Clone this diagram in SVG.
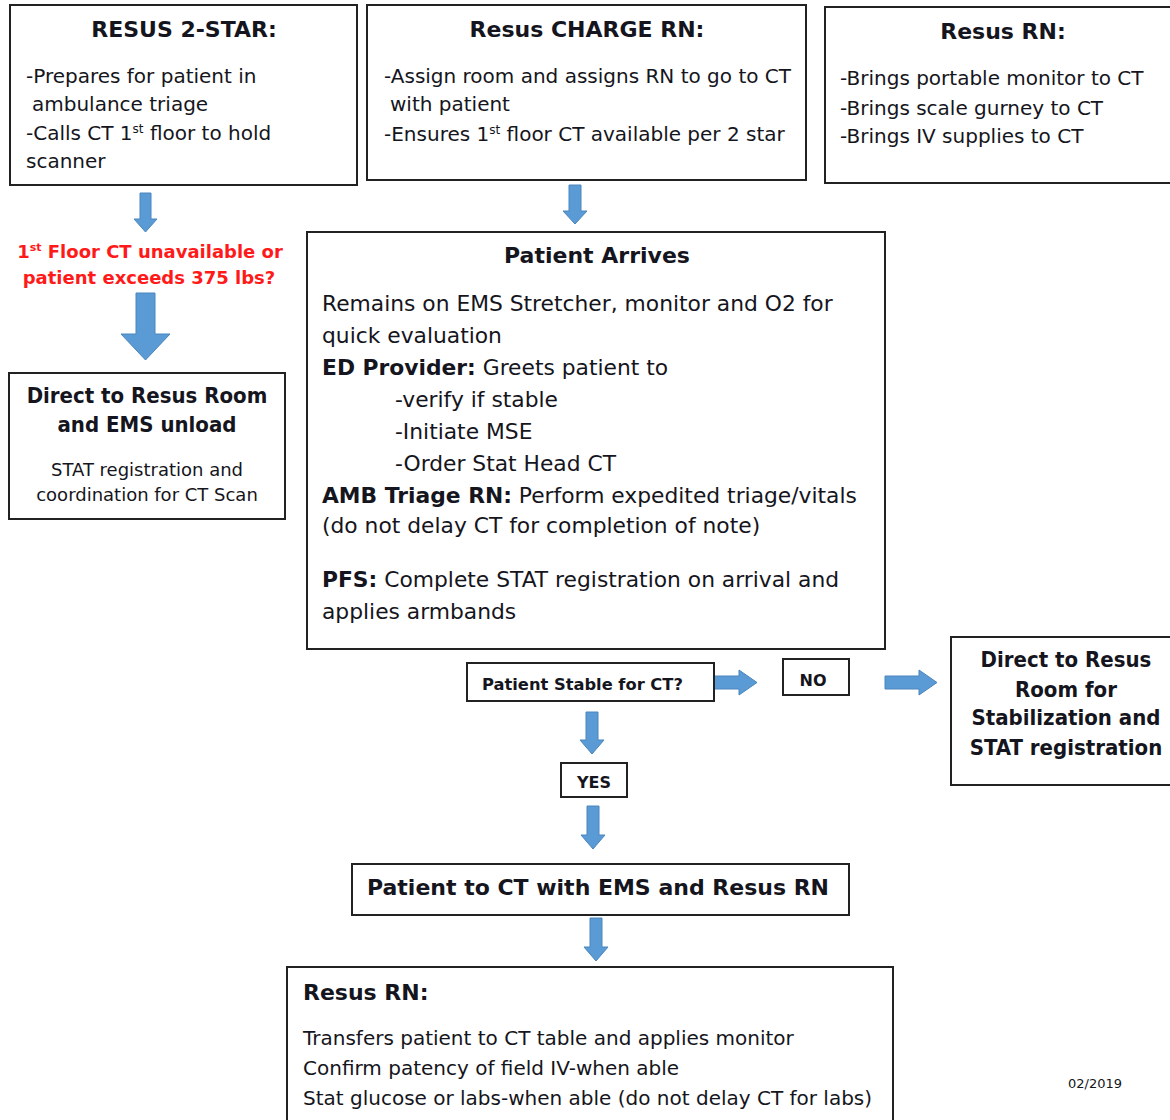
<svg xmlns="http://www.w3.org/2000/svg" width="1170" height="1120" viewBox="0 0 1170 1120">
<defs>
<style>
.box{fill:#fff;stroke:#222;stroke-width:2}
.arr{fill:#5b9bd5;stroke:#4a85bd;stroke-width:1}
text{font-family:"DejaVu Sans",Verdana,sans-serif;fill:#151520}
.t{font-weight:bold;font-size:22px;text-anchor:middle}
.cd{font-family:"DejaVu Sans Condensed","DejaVu Sans",sans-serif}
.b{font-size:20px}
.m{font-size:21.8px}
.bb{font-weight:bold}
.red{fill:#ff1a1a;font-weight:bold;font-size:18px;text-anchor:middle}
.c{text-anchor:middle}
</style>
</defs>
<rect width="1170" height="1120" fill="#fff"/>
<g id="connectors">
<polygon class="arr" points="140,193 151,193 151,219 157,219 145.5,232 134,219 140,219"/>
<polygon class="arr" points="136,293 155,293 155,334 170,334 145.5,360 121,334 136,334"/>
<polygon class="arr" points="569,185 581,185 581,211 587,211 575,224 563,211 569,211"/>
<polygon class="arr" points="703,676 739,676 739,670 757,682.5 739,695 739,689 703,689"/>
<polygon class="arr" points="885,676 919,676 919,670 937,682.5 919,695 919,689 885,689"/>
<polygon class="arr" points="586,712 598,712 598,740 604,740 592,754 580,740 586,740"/>
<polygon class="arr" points="587,806 599,806 599,835 605,835 593,849 581,835 587,835"/>
<polygon class="arr" points="590,918 602,918 602,947 608,947 596,961 584,947 590,947"/>
</g>
<g id="n1">
<rect class="box" x="10" y="5" width="347" height="180"/>
<text class="t" x="184" y="37">RESUS 2-STAR:</text>
<text class="b" x="26" y="83">-Prepares for patient in</text>
<text class="b" x="32" y="111">ambulance triage</text>
<text class="b" x="26" y="140">-Calls CT 1<tspan font-size="12" dy="-7">st</tspan><tspan dy="7"> floor to hold</tspan></text>
<text class="b" x="26" y="168">scanner</text>
</g>
<g id="n2">
<rect class="box" x="367" y="5" width="439" height="175"/>
<text class="t" x="587" y="37">Resus CHARGE RN:</text>
<text class="b" x="384" y="83">-Assign room and assigns RN to go to CT</text>
<text class="b" x="390" y="111">with patient</text>
<text class="b" x="384" y="141">-Ensures 1<tspan font-size="12" dy="-7">st</tspan><tspan dy="7"> floor CT available per 2 star</tspan></text>
</g>
<g id="n3">
<rect class="box" x="825" y="7" width="350" height="176"/>
<text class="t" x="1003" y="39">Resus RN:</text>
<text class="b" x="840" y="85">-Brings portable monitor to CT</text>
<text class="b" x="840" y="115">-Brings scale gurney to CT</text>
<text class="b" x="840" y="143">-Brings IV supplies to CT</text>
</g>
<g id="q1">
<text class="red" x="150" y="258">1<tspan font-size="11" dy="-7">st</tspan><tspan dy="7"> Floor CT unavailable or</tspan></text>
<text class="red" x="149" y="284">patient exceeds 375 lbs?</text>
</g>
<g id="n4">
<rect class="box" x="9" y="373" width="276" height="146"/>
<text class="t cd" x="147" y="403">Direct to Resus Room</text>
<text class="t cd" x="147" y="432">and EMS unload</text>
<text class="c" x="147" y="476" font-size="18">STAT registration and</text>
<text class="c" x="147" y="501" font-size="18">coordination for CT Scan</text>
</g>
<g id="n5">
<rect class="box" x="307" y="232" width="578" height="417"/>
<text class="t" x="597" y="263">Patient Arrives</text>
<text class="m" x="322" y="311">Remains on EMS Stretcher, monitor and O2 for</text>
<text class="m" x="322" y="343">quick evaluation</text>
<text class="m" x="322" y="375"><tspan class="bb">ED Provider:</tspan> Greets patient to</text>
<text class="m" x="395" y="407">-verify if stable</text>
<text class="m" x="395" y="439">-Initiate MSE</text>
<text class="m" x="395" y="471">-Order Stat Head CT</text>
<text class="m" x="322" y="503"><tspan class="bb">AMB Triage RN:</tspan> Perform expedited triage/vitals</text>
<text class="m" x="322" y="533">(do not delay CT for completion of note)</text>
<text class="m" x="322" y="587"><tspan class="bb">PFS:</tspan> Complete STAT registration on arrival and</text>
<text class="m" x="322" y="619">applies armbands</text>
</g>
<g id="n6">
<rect class="box" x="467" y="663" width="247" height="38"/>
<text class="bb" x="482" y="690" font-size="16.3">Patient Stable for CT?</text>
</g>
<g id="n7">
<rect class="box" x="783" y="659" width="66" height="36"/>
<text class="bb c" x="813" y="686" font-size="16">NO</text>
</g>
<g id="n8">
<rect class="box" x="951" y="637" width="224" height="148"/>
<text class="t cd" x="1066" y="667">Direct to Resus</text>
<text class="t cd" x="1066" y="697">Room for</text>
<text class="t cd" x="1066" y="725">Stabilization and</text>
<text class="t cd" x="1066" y="755">STAT registration</text>
</g>
<g id="n9">
<rect class="box" x="561" y="763" width="66" height="34"/>
<text class="bb c" x="594" y="788" font-size="16">YES</text>
</g>
<g id="n10">
<rect class="box" x="352" y="864" width="497" height="51"/>
<text class="t" x="598" y="895">Patient to CT with EMS and Resus RN</text>
</g>
<g id="n11">
<rect class="box" x="287" y="967" width="606" height="160"/>
<text class="bb" x="303" y="1000" font-size="22">Resus RN:</text>
<text class="b" x="303" y="1045">Transfers patient to CT table and applies monitor</text>
<text class="b" x="303" y="1075">Confirm patency of field IV-when able</text>
<text class="b" x="303" y="1105">Stat glucose or labs-when able (do not delay CT for labs)</text>
</g>
<text x="1068" y="1088" font-size="13">02/2019</text>
</svg>
